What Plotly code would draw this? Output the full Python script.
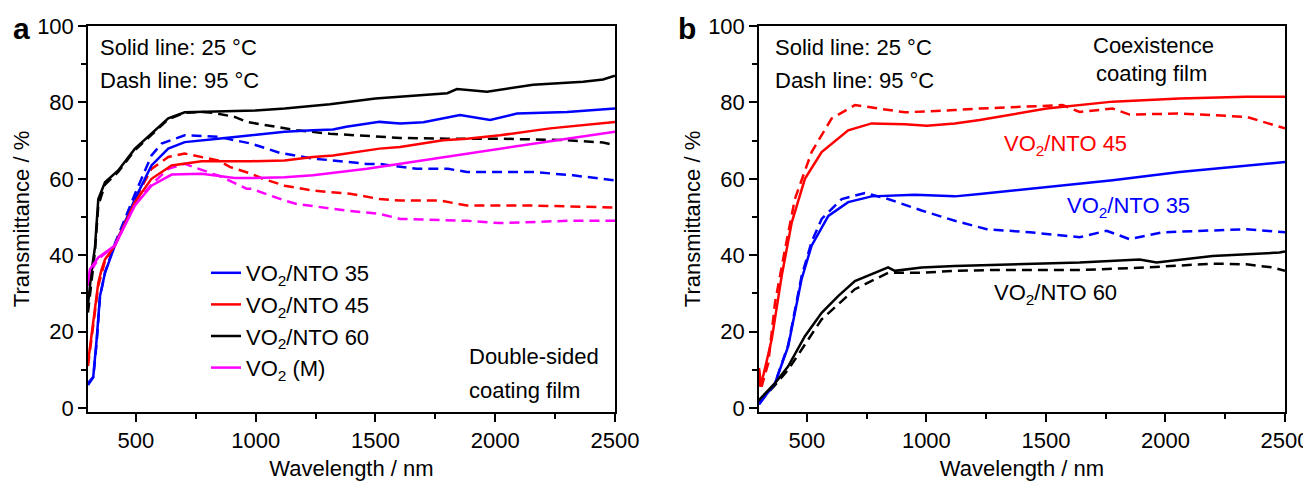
import plotly.graph_objects as go

# ---------------- Panel a: double-sided coating film ----------------
a_nto60_25_x = [300, 315, 329, 343, 371, 426, 496, 565, 635, 704, 843, 1000, 1121, 1310, 1500, 1603, 1800, 1840, 1966, 2158, 2367, 2450, 2500]
a_nto60_25_y = [27, 36, 42, 54.7, 59.1, 62.2, 67.9, 71.8, 75.8, 77.4, 77.7, 77.9, 78.4, 79.5, 81.0, 81.5, 82.4, 83.5, 82.8, 84.6, 85.4, 86.0, 87.0]
a_nto60_95_x = [300, 315, 329, 343, 371, 426, 496, 565, 635, 704, 780, 822, 912, 962, 1121, 1171, 1310, 1517, 1603, 1800, 2020, 2300, 2450, 2500]
a_nto60_95_y = [25, 34, 41, 53, 58.5, 61.8, 67.5, 71.5, 75.6, 77.3, 77.5, 77.3, 76.2, 74.9, 73.3, 72.7, 71.8, 71.0, 70.7, 70.5, 70.5, 70.1, 69.5, 68.8]

a_nto35_25_x = [300, 322, 336, 350, 371, 412, 496, 565, 635, 704, 843, 982, 1121, 1239, 1323, 1378, 1465, 1517, 1603, 1700, 1853, 1979, 2091, 2300, 2500]
a_nto35_25_y = [6.5, 8.2, 17.9, 29.3, 35.4, 42.5, 54.7, 63.5, 67.9, 69.6, 70.5, 71.4, 72.3, 72.7, 72.9, 73.6, 74.5, 74.9, 74.5, 74.8, 76.7, 75.4, 77.1, 77.5, 78.4]
a_nto35_95_x = [300, 322, 336, 350, 371, 412, 496, 565, 607, 704, 843, 982, 1100, 1239, 1323, 1465, 1517, 1672, 1803, 1882, 2158, 2325, 2500]
a_nto35_95_y = [6.0, 8.0, 17.0, 29.0, 35.5, 43.0, 56.0, 66.1, 69.2, 71.4, 71.0, 69.2, 66.8, 65.3, 64.8, 63.9, 63.9, 62.6, 62.6, 61.8, 61.8, 60.9, 59.6]

a_nto45_25_x = [300, 322, 343, 357, 371, 412, 496, 565, 649, 774, 982, 1121, 1239, 1323, 1378, 1465, 1517, 1603, 1782, 1882, 2020, 2229, 2500]
a_nto45_25_y = [11.8, 22.3, 32.8, 36.3, 38.9, 42.5, 53.9, 60.0, 63.5, 64.6, 64.6, 64.8, 65.7, 66.1, 66.6, 67.5, 67.9, 68.3, 70.1, 70.5, 71.4, 73.2, 74.9]
a_nto45_95_x = [300, 322, 343, 371, 412, 496, 565, 635, 704, 843, 892, 982, 1031, 1121, 1239, 1394, 1517, 1603, 1770, 1882, 2158, 2500]
a_nto45_95_y = [11.0, 21.5, 32.0, 38.5, 42.5, 54.5, 62.6, 65.7, 66.6, 64.8, 63.1, 61.3, 60.0, 58.2, 56.9, 56.1, 54.7, 54.3, 54.3, 53.0, 53.0, 52.5]

a_vo2m_25_x = [300, 308, 343, 412, 496, 565, 649, 774, 912, 982, 1121, 1239, 1465, 1517, 1741, 2020, 2300, 2500]
a_vo2m_25_y = [33.0, 36.3, 39.4, 42.5, 53.0, 58.2, 61.1, 61.3, 60.2, 60.2, 60.4, 60.9, 62.6, 63.1, 65.3, 67.9, 70.5, 72.3]
a_vo2m_95_x = [300, 308, 343, 412, 496, 565, 635, 704, 822, 843, 962, 982, 1121, 1171, 1378, 1517, 1603, 1882, 2020, 2300, 2500]
a_vo2m_95_y = [32.0, 35.5, 39.0, 42.5, 53.5, 58.5, 62.6, 63.9, 61.3, 60.9, 57.4, 57.4, 54.3, 53.4, 51.7, 50.8, 49.5, 49.0, 48.4, 49.0, 49.0]

# ---------------- Panel b: coexistence coating film ----------------
b_nto45_25_x = [300, 304, 320, 353, 395, 437, 492, 562, 673, 771, 910, 1002, 1119, 1223, 1503, 1779, 2059, 2339, 2500]
b_nto45_25_y = [10.5, 5.6, 9.0, 17.9, 34.6, 48.6, 60.0, 67.0, 72.7, 74.5, 74.3, 73.9, 74.5, 75.4, 78.4, 80.2, 81.0, 81.5, 81.5]
b_nto45_95_x = [300, 311, 339, 367, 409, 450, 520, 604, 701, 840, 910, 1119, 1223, 1570, 1641, 1779, 1850, 2059, 2339, 2500]
b_nto45_95_y = [10.0, 5.6, 11.8, 27.6, 41.6, 54.7, 67.0, 75.8, 79.3, 78.0, 77.4, 78.0, 78.4, 79.3, 77.5, 78.4, 76.8, 77.1, 76.2, 73.2]

b_nto35_25_x = [300, 367, 422, 478, 520, 590, 673, 771, 952, 1119, 1223, 1503, 1779, 2059, 2339, 2500]
b_nto35_25_y = [1.0, 6.5, 16.1, 33.7, 42.5, 50.3, 53.9, 55.4, 55.8, 55.4, 56.0, 57.8, 59.6, 61.8, 63.5, 64.4]
b_nto35_95_x = [300, 367, 422, 478, 520, 562, 646, 743, 840, 980, 1119, 1253, 1432, 1641, 1754, 1850, 1988, 2339, 2500]
b_nto35_95_y = [1.0, 6.5, 16.5, 34.5, 43.5, 49.5, 54.7, 56.3, 54.7, 51.7, 49.0, 46.8, 46.0, 44.7, 46.4, 44.2, 46.0, 46.8, 46.0]

b_nto60_25_x = [300, 367, 422, 492, 562, 631, 701, 771, 840, 868, 980, 1119, 1265, 1641, 1892, 1963, 2197, 2477, 2500]
b_nto60_25_y = [2.1, 6.5, 10.9, 18.8, 24.9, 29.3, 33.2, 35.0, 36.8, 35.9, 36.8, 37.2, 37.5, 38.1, 38.9, 38.1, 39.8, 40.7, 41.0]
b_nto60_95_x = [300, 367, 422, 562, 701, 840, 980, 1119, 1265, 1641, 1921, 2197, 2339, 2448, 2500]
b_nto60_95_y = [1.5, 6.0, 10.0, 23.2, 31.1, 35.4, 35.4, 35.9, 36.1, 36.1, 36.8, 37.8, 37.6, 36.8, 35.9]

x_ticks = [500, 1000, 1500, 2000, 2500]
x_minor = [750, 1250, 1750, 2250]
y_ticks = [0, 20, 40, 60, 80, 100]
y_minor = [10, 30, 50, 70, 90]

BLUE, RED, BLACK, MAG = "#0000FF", "#FF0000", "#000000", "#FF00FF"
FONT = "Arial, 'Liberation Sans', sans-serif"
OFF = 8                      # default page body margin
W, H = 1311 - OFF, 482 - OFF
LW = 2.5
DASH = "10px,6px"

def fx(p):
    return (p - OFF) / W

def fy(p):
    return 1 - (p - OFF) / H

fig = go.Figure()

def add(x, y, color, dashed, axis, name=None, legend=False):
    fig.add_trace(go.Scatter(
        x=x, y=y, mode="lines", name=name, showlegend=legend,
        line=dict(color=color, width=LW, dash=DASH if dashed else "solid"),
        xaxis="x" if axis == 1 else "x2", yaxis="y" if axis == 1 else "y2",
        hoverinfo="skip"))

add(a_nto35_95_x, a_nto35_95_y, BLUE, True, 1)
add(a_nto45_95_x, a_nto45_95_y, RED, True, 1)
add(a_nto60_95_x, a_nto60_95_y, BLACK, True, 1)
add(a_vo2m_95_x, a_vo2m_95_y, MAG, True, 1)
add(a_nto35_25_x, a_nto35_25_y, BLUE, False, 1, "VO<sub>2</sub>/NTO 35", True)
add(a_nto45_25_x, a_nto45_25_y, RED, False, 1, "VO<sub>2</sub>/NTO 45", True)
add(a_nto60_25_x, a_nto60_25_y, BLACK, False, 1, "VO<sub>2</sub>/NTO 60", True)
add(a_vo2m_25_x, a_vo2m_25_y, MAG, False, 1, "VO<sub>2</sub> (M)", True)

add(b_nto45_95_x, b_nto45_95_y, RED, True, 2)
add(b_nto35_95_x, b_nto35_95_y, BLUE, True, 2)
add(b_nto60_95_x, b_nto60_95_y, BLACK, True, 2)
add(b_nto45_25_x, b_nto45_25_y, RED, False, 2)
add(b_nto35_25_x, b_nto35_25_y, BLUE, False, 2)
add(b_nto60_25_x, b_nto60_25_y, BLACK, False, 2)

tickfont = dict(family=FONT, size=22, color="black")

def xaxis(domain, anchor):
    return dict(domain=domain, anchor=anchor, range=[300, 2500],
                showline=True, linecolor="black", linewidth=1.5, mirror=True,
                ticks="outside", ticklen=8, tickwidth=1.5, tickcolor="black",
                tickmode="array", tickvals=x_ticks, tickfont=tickfont,
                minor=dict(tickmode="array", tickvals=x_minor, ticks="outside",
                           ticklen=5, tickwidth=1.5, tickcolor="black"),
                showgrid=False, zeroline=False,
                title=dict(text="Wavelength / nm", font=tickfont, standoff=8))

def yaxis(domain, anchor):
    return dict(domain=domain, anchor=anchor, range=[-1.05, 100],
                showline=True, linecolor="black", linewidth=1.5, mirror=True,
                ticks="outside", ticklen=8, tickwidth=1.5, tickcolor="black",
                tickmode="array", tickvals=y_ticks, tickfont=tickfont,
                minor=dict(tickmode="array", tickvals=y_minor, ticks="outside",
                           ticklen=5, tickwidth=1.5, tickcolor="black"),
                showgrid=False, zeroline=False,
                title=dict(text="Transmittance / %", font=tickfont, standoff=1))

ydom = [fy(412), fy(26)]
fig.update_layout(
    width=W, height=H,
    margin=dict(l=0, r=0, t=0, b=0, autoexpand=False),
    paper_bgcolor="white", plot_bgcolor="white",
    font=dict(family=FONT, size=22, color="black"),
    xaxis=xaxis([fx(88), fx(615)], "y"),
    yaxis=yaxis(ydom, "x"),
    xaxis2=xaxis([fx(759), fx(1285)], "y2"),
    yaxis2=yaxis(ydom, "x2"),
    showlegend=True,
    legend=dict(x=fx(206), y=fy(252), xanchor="left", yanchor="top",
                bgcolor="rgba(0,0,0,0)", borderwidth=0,
                font=dict(family=FONT, size=22, color="black"),
                tracegroupgap=0, itemwidth=30),
)

annots = [
    ("<b>a</b>", 21, 28, "center", 30, "black"),
    ("<b>b</b>", 687, 28, "center", 30, "black"),
    ("Solid line: 25 °C", 98, 47, "left", 22, "black"),
    ("Dash line: 95 °C", 98, 80, "left", 22, "black"),
    ("Double-sided", 467, 356, "left", 22, "black"),
    ("coating film", 467, 390, "left", 22, "black"),
    ("Solid line: 25 °C", 773, 47, "left", 22, "black"),
    ("Dash line: 95 °C", 773, 80, "left", 22, "black"),
    ("Coexistence", 1153, 45, "center", 22, "black"),
    ("coating film", 1151, 74, "center", 22, "black"),
    ("VO<sub>2</sub>/NTO 45", 1065, 145, "center", 22, RED),
    ("VO<sub>2</sub>/NTO 35", 1128, 207, "center", 22, BLUE),
    ("VO<sub>2</sub>/NTO 60", 1055, 294, "center", 22, BLACK),
]
for text, x, y, anchor, size, color in annots:
    fig.add_annotation(text=text, x=fx(x), y=fy(y), xref="paper", yref="paper",
                       xanchor=anchor, yanchor="middle", showarrow=False,
                       font=dict(family=FONT, size=size, color=color))

fig.write_html("out.html")
